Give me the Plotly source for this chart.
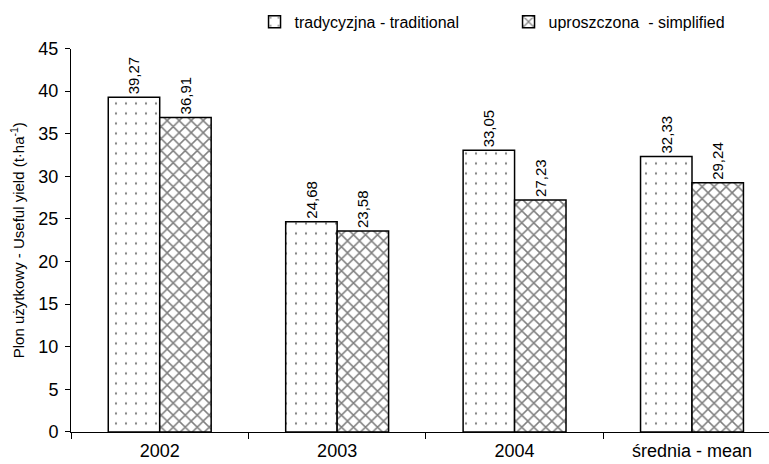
import plotly.graph_objects as go

categories = ["2002", "2003", "2004", "średnia - mean"]
traditional = [39.27, 24.68, 33.05, 32.33]
simplified = [36.91, 23.58, 27.23, 29.24]
series_names = ["tradycyzjna - traditional", "uproszczona  - simplified"]
y_title = "Plon użytkowy - Useful yield (t·ha<sup>-1</sup>)"

FONT = "Liberation Sans, Arial, sans-serif"

fig = go.Figure()
fig.add_trace(go.Bar(
    x=categories, y=traditional, name=series_names[0],
    marker=dict(color="white", line=dict(color="black", width=1.5),
                pattern=dict(shape=".", size=10, solidity=0.04,
                             fgcolor="black", bgcolor="white")),
    texttemplate="%{y:.2f}", textposition="outside", textangle=-90,
    textfont=dict(size=15, color="black", family=FONT), cliponaxis=False,
))
fig.add_trace(go.Bar(
    x=categories, y=simplified, name=series_names[1],
    marker=dict(color="white", line=dict(color="black", width=1.5),
                pattern=dict(shape="x", size=8.5, solidity=0.32,
                             fgcolor="black", bgcolor="white")),
    texttemplate="%{y:.2f}", textposition="outside", textangle=-90,
    textfont=dict(size=15, color="black", family=FONT), cliponaxis=False,
))

# rotated axis title, placed as an annotation left of the tick labels
fig.add_annotation(
    text=y_title, textangle=-90, showarrow=False,
    xref="paper", yref="paper", x=-0.0774, y=0.5,
    xanchor="center", yanchor="middle",
    font=dict(size=15, family=FONT, color="black"),
)

fig.update_layout(
    width=769, height=464,
    margin=dict(l=71, r=0, t=39, b=32),
    paper_bgcolor="white", plot_bgcolor="white",
    font=dict(family=FONT, color="black", size=18),
    separators=", ",
    barmode="group", bargap=0.42, bargroupgap=0,
    showlegend=True,
    legend=dict(orientation="h", xref="container", yref="container",
                x=0.331, y=0.953, xanchor="left", yanchor="middle",
                font=dict(size=16), itemwidth=30, entrywidth=209,
                traceorder="normal", bgcolor="rgba(0,0,0,0)"),
    xaxis=dict(range=[-0.5, 3.434], showline=True, linecolor="black", linewidth=1,
               ticks="outside", tickson="boundaries", ticklen=6, tickcolor="black",
               tickfont=dict(size=18), showgrid=False, ticklabelstandoff=2),
    yaxis=dict(range=[0, 45], dtick=5, showline=True, linecolor="black", linewidth=1,
               ticks="outside", ticklen=5, tickcolor="black", showgrid=False,
               zeroline=False, tickfont=dict(size=18), ticklabelstandoff=3),
)

fig.write_html("out.html")
